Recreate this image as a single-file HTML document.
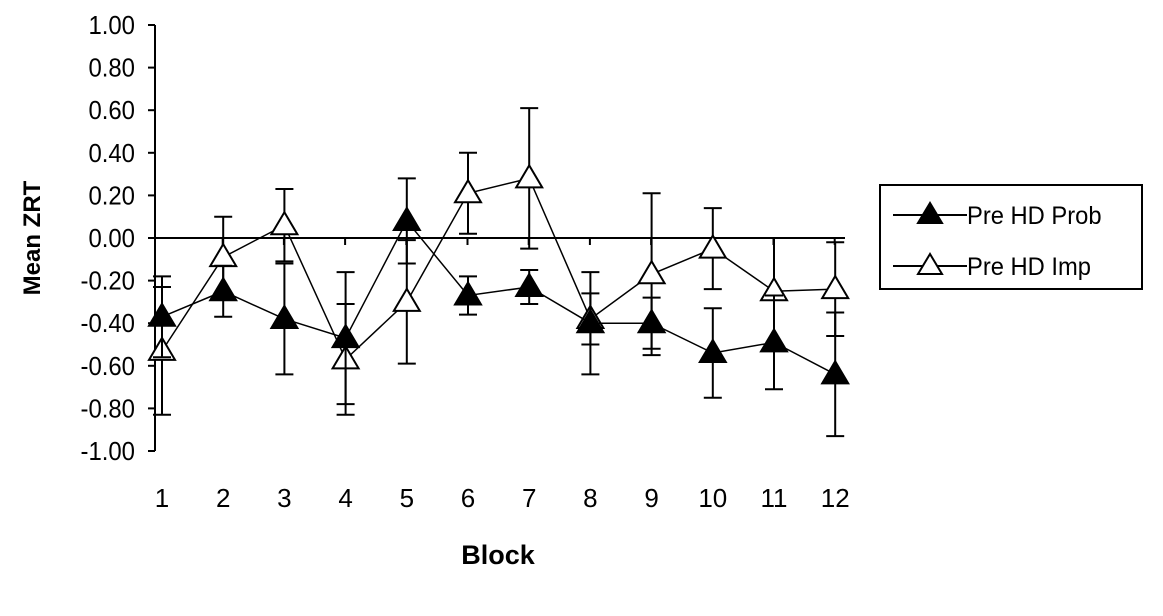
<!DOCTYPE html>
<html><head><meta charset="utf-8"><style>
body{margin:0;background:#fff;}
svg{font-family:"Liberation Sans",Arial,sans-serif;}
</style></head><body>
<svg id="c" width="1163" height="611"></svg>
<script>
const blocks=[1,2,3,4,5,6,7,8,9,10,11,12];
const probMean=[-0.37,-0.25,-0.38,-0.47,0.08,-0.27,-0.23,-0.40,-0.40,-0.54,-0.49,-0.64];
const probErr=[0.19,0.12,0.26,0.31,0.20,0.09,0.08,0.24,0.12,0.21,0.22,0.29];
const impMean=[-0.53,-0.09,0.06,-0.57,-0.30,0.21,0.28,-0.38,-0.17,-0.05,-0.25,-0.24];
const impErr=[0.30,0.19,0.17,0.26,0.29,0.19,0.33,0.12,0.38,0.19,0.25,0.22];
const yTicks=[1,0.8,0.6,0.4,0.2,0,-0.2,-0.4,-0.6,-0.8,-1];
const NS="http://www.w3.org/2000/svg";
const svg=document.getElementById('c');
const X=b=>162+(b-1)*61.2;
const Y=v=>238-v*213;
function mk(t,a,p){const e=document.createElementNS(NS,t);for(const k in a)e.setAttribute(k,a[k]);(p||svg).appendChild(e);return e;}
let ax=mk('line',{x1:155,y1:Y(1),x2:155,y2:Y(-1),stroke:'#000','stroke-width':2});


let zl=mk('line',{x1:155,y1:Y(0),x2:845,y2:Y(0),stroke:'#000','stroke-width':2});


yTicks.forEach(v=>{
 let t=mk('line',{x1:148,y1:Y(v),x2:155,y2:Y(v),stroke:'#000','stroke-width':2});
 
 
 let l=mk('text',{x:135,y:Y(v)+9,'text-anchor':'end','font-size':26,transform:`translate(135 0) scale(0.92 1) translate(-135 0)`});
 l.textContent=v.toFixed(2);
 
 
});
blocks.forEach(b=>{
 if(b>1){let t=mk('line',{x1:X(b)-0.5,y1:Y(0),x2:X(b)-0.5,y2:Y(0)+7,stroke:'#000','stroke-width':2});
 
 }
 let l=mk('text',{x:X(b),y:507,'text-anchor':'middle','font-size':26});
 l.textContent=b;
 
 
});
let xt=mk('text',{x:498,y:564,'text-anchor':'middle','font-size':27,'font-weight':'bold'});
xt.textContent='Block';


let yt=mk('text',{x:40,y:238,'text-anchor':'middle','font-size':24,'font-weight':'bold',transform:'rotate(-90 40 238)'});
yt.textContent='Mean ZRT';


function tri(x,y,filled,name){
 let p=mk('polygon',{points:`${x},${y-13} ${x-13},${y+9} ${x+13},${y+9}`,fill:filled?'#000':'#fff',stroke:'#000','stroke-width':2});
 
 
}
function series(m,e,filled,name){
 blocks.forEach((b,i)=>{
  const x=X(b),t=Y(m[i]+e[i]),bo=Y(m[i]-e[i]);
  let g=mk('path',{d:`M${x},${t}V${bo}M${x-9},${t}H${x+9}M${x-9},${bo}H${x+9}`,stroke:'#000','stroke-width':2,fill:'none'});
  
  
 });
 let ln=mk('polyline',{points:blocks.map((b,i)=>X(b)+','+Y(m[i])).join(' '),fill:'none',stroke:'#000','stroke-width':1.5});
 
 
 blocks.forEach((b,i)=>tri(X(b),Y(m[i]),filled,name+'-marker'));
}
series(impMean,impErr,false,'pre-hd-imp');
series(probMean,probErr,true,'pre-hd-prob');
let lg=mk('g',{});


mk('rect',{x:880,y:185,width:262,height:104,fill:'#fff',stroke:'#000','stroke-width':2},lg);
[['Pre HD Prob',true,215],['Pre HD Imp',false,266]].forEach(([n,f,y])=>{
 let e=mk('g',{},lg);
 
 
 mk('line',{x1:893,y1:y,x2:967,y2:y,stroke:'#000','stroke-width':2},e);
 mk('polygon',{points:`930,${y-12} 918,${y+8} 942,${y+8}`,fill:f?'#000':'#fff',stroke:'#000','stroke-width':2},e);
 let t=mk('text',{x:967,y:y+9,'font-size':25,transform:`translate(967 0) scale(0.95 1) translate(-967 0)`},e);t.textContent=n;
});
</script>
</body></html>
